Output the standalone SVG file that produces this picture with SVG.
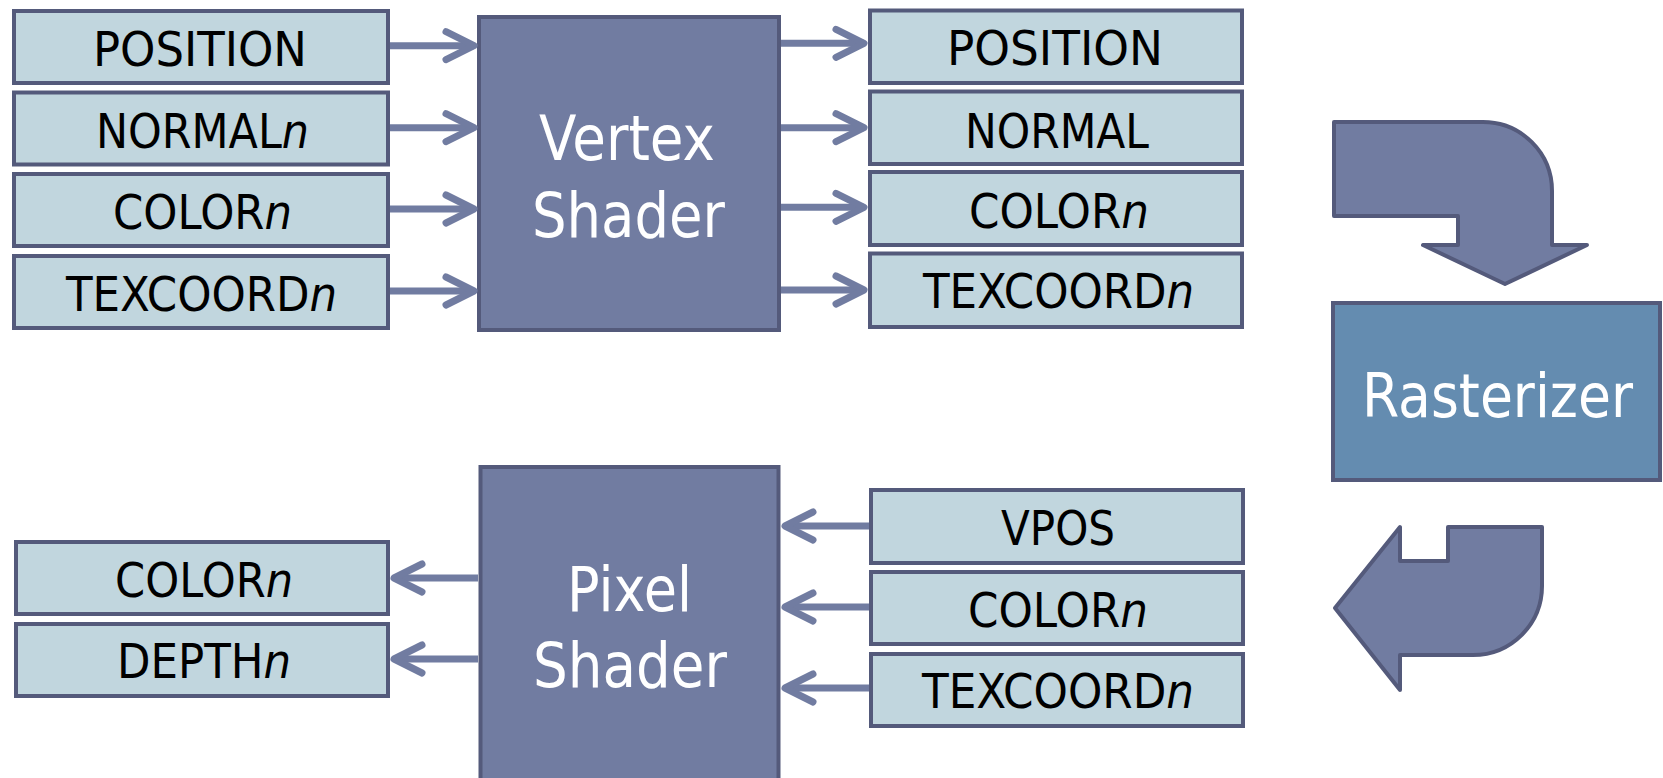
<svg xmlns="http://www.w3.org/2000/svg" width="1663" height="778" viewBox="0 0 1663 778">
  <style>
    .sem { fill: #c1d6de; stroke: #545a7b; stroke-width: 4; }
    .stage { fill: #717ca1; stroke: #545a7b; stroke-width: 4; }
    .rast { fill: #648cb0; stroke: #545a7b; stroke-width: 4; }
    .bent { fill: #717ca1; stroke: #545a7b; stroke-width: 4; stroke-linejoin: round; }
    .lbl { font-family: "DejaVu Sans", "Liberation Sans", sans-serif; font-size: 48px; fill: #000000; }
    .big { font-family: "DejaVu Sans", "Liberation Sans", sans-serif; font-size: 62px; fill: #ffffff; }
    .it { font-style: italic; }
    .flow { fill: none; stroke: #717ca1; stroke-width: 7; marker-end: url(#chev); }
  </style>
  <defs>
    <marker id="chev" markerUnits="userSpaceOnUse" markerWidth="40" markerHeight="40" refX="0" refY="0" orient="auto" overflow="visible">
      <path d="M-28,-14 L0,0 L-28,14" fill="none" stroke="#717ca1" stroke-width="7" stroke-linecap="round" stroke-linejoin="round"/>
    </marker>
  </defs>
  <rect width="1663" height="778" fill="#ffffff"/>

  <!-- vertex shader inputs -->
  <g id="vs-in-position">
    <rect class="sem" x="14" y="11" width="374" height="72"/>
    <text class="lbl" x="93" y="66" textLength="214" lengthAdjust="spacingAndGlyphs">POSITION</text>
  </g>
  <g id="vs-in-normal">
    <rect class="sem" x="14" y="92.5" width="374" height="72"/>
    <text class="lbl" x="96" y="148" textLength="213" lengthAdjust="spacingAndGlyphs">NORMAL<tspan class="it">n</tspan></text>
  </g>
  <g id="vs-in-color">
    <rect class="sem" x="14" y="174" width="374" height="72"/>
    <text class="lbl" x="113" y="229" textLength="179" lengthAdjust="spacingAndGlyphs">COLOR<tspan class="it">n</tspan></text>
  </g>
  <g id="vs-in-texcoord">
    <rect class="sem" x="14" y="256" width="374" height="72"/>
    <text class="lbl" x="66" y="311" textLength="271" lengthAdjust="spacingAndGlyphs">TEXCOORD<tspan class="it">n</tspan></text>
  </g>

  <!-- vertex shader -->
  <g id="vertex-shader">
    <rect class="stage" x="479" y="17" width="300" height="313"/>
    <text class="big" x="539" y="160" textLength="176" lengthAdjust="spacingAndGlyphs">Vertex</text>
    <text class="big" x="532" y="237" textLength="193" lengthAdjust="spacingAndGlyphs">Shader</text>
  </g>

  <!-- vertex shader outputs -->
  <g id="vs-out-position">
    <rect class="sem" x="870" y="10.5" width="372" height="72.5"/>
    <text class="lbl" x="947" y="65" textLength="216" lengthAdjust="spacingAndGlyphs">POSITION</text>
  </g>
  <g id="vs-out-normal">
    <rect class="sem" x="870" y="91.5" width="372" height="72.5"/>
    <text class="lbl" x="965" y="148" textLength="184" lengthAdjust="spacingAndGlyphs">NORMAL</text>
  </g>
  <g id="vs-out-color">
    <rect class="sem" x="870" y="172" width="372" height="73"/>
    <text class="lbl" x="969" y="228" textLength="180" lengthAdjust="spacingAndGlyphs">COLOR<tspan class="it">n</tspan></text>
  </g>
  <g id="vs-out-texcoord">
    <rect class="sem" x="870" y="253.5" width="372" height="73.5"/>
    <text class="lbl" x="923" y="308" textLength="271" lengthAdjust="spacingAndGlyphs">TEXCOORD<tspan class="it">n</tspan></text>
  </g>

  <!-- rasterizer stage with its two bent arrows -->
  <g id="to-rasterizer">
    <path class="bent" d="M1334,122 H1483 A69,69 0 0 1 1552,191 V245 H1587 L1505,284 L1423,245 H1458 V216 H1334 Z"/>
  </g>
  <g id="rasterizer">
    <rect class="rast" x="1333" y="303" width="327" height="177"/>
    <text class="big" x="1362" y="417" style="font-size:60px" textLength="271" lengthAdjust="spacingAndGlyphs">Rasterizer</text>
  </g>
  <g id="from-rasterizer">
    <path class="bent" d="M1448,527 H1542 V586 A69,69 0 0 1 1473,655 H1400 V690 L1335,608 L1400,527 V561 H1448 Z"/>
  </g>

  <!-- pixel shader inputs -->
  <g id="ps-in-vpos">
    <rect class="sem" x="871" y="490" width="372" height="73"/>
    <text class="lbl" x="1001" y="545" textLength="114" lengthAdjust="spacingAndGlyphs">VPOS</text>
  </g>
  <g id="ps-in-color">
    <rect class="sem" x="871" y="572" width="372" height="72"/>
    <text class="lbl" x="968" y="627" textLength="180" lengthAdjust="spacingAndGlyphs">COLOR<tspan class="it">n</tspan></text>
  </g>
  <g id="ps-in-texcoord">
    <rect class="sem" x="871" y="654" width="372" height="72"/>
    <text class="lbl" x="922" y="708" textLength="272" lengthAdjust="spacingAndGlyphs">TEXCOORD<tspan class="it">n</tspan></text>
  </g>

  <!-- pixel shader -->
  <g id="pixel-shader">
    <rect class="stage" x="480.5" y="467" width="298" height="320"/>
    <text class="big" x="567" y="611" textLength="125" lengthAdjust="spacingAndGlyphs">Pixel</text>
    <text class="big" x="533" y="687" textLength="194" lengthAdjust="spacingAndGlyphs">Shader</text>
  </g>

  <!-- pixel shader outputs -->
  <g id="ps-out-color">
    <rect class="sem" x="16" y="542" width="372" height="72"/>
    <text class="lbl" x="115" y="597" textLength="178" lengthAdjust="spacingAndGlyphs">COLOR<tspan class="it">n</tspan></text>
  </g>
  <g id="ps-out-depth">
    <rect class="sem" x="16" y="624" width="372" height="72"/>
    <text class="lbl" x="117" y="678" textLength="174" lengthAdjust="spacingAndGlyphs">DEPTH<tspan class="it">n</tspan></text>
  </g>

  <!-- connectors -->
  <g id="connectors">
    <path class="flow" d="M390,45.7 H474"/>
    <path class="flow" d="M390,127.7 H474"/>
    <path class="flow" d="M390,209 H474"/>
    <path class="flow" d="M390,291 H474"/>
    <path class="flow" d="M781,43.3 H864"/>
    <path class="flow" d="M781,127.7 H864"/>
    <path class="flow" d="M781,207.3 H864"/>
    <path class="flow" d="M781,290 H864"/>
    <path class="flow" d="M869,526 H785"/>
    <path class="flow" d="M869,607 H785"/>
    <path class="flow" d="M869,688 H785"/>
    <path class="flow" d="M478,578 H394"/>
    <path class="flow" d="M478,659 H394"/>
  </g>
</svg>
